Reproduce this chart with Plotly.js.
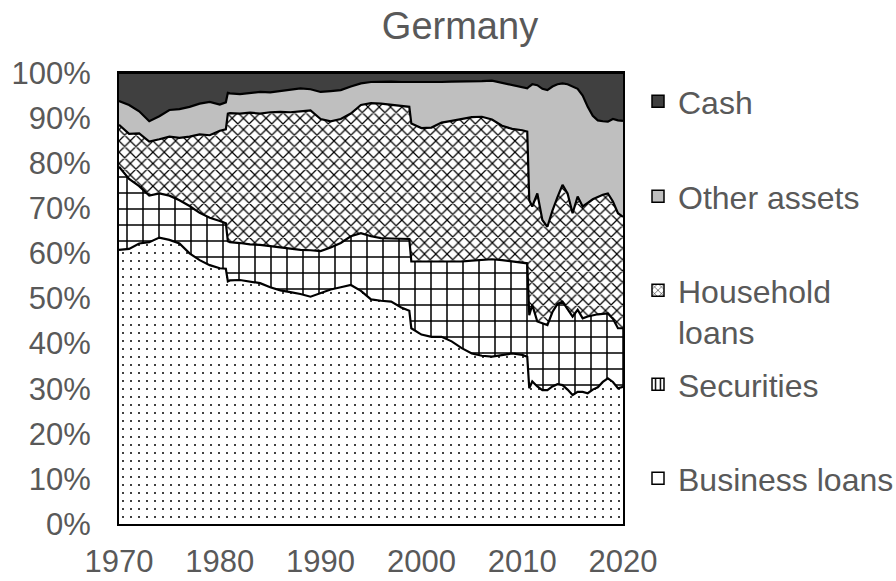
<!DOCTYPE html>
<html><head><meta charset="utf-8">
<script src="https://cdn.plot.ly/plotly-3.0.1.min.js"></script>
<style>html,body{margin:0;padding:0;background:#fff}#chart{width:896px;height:581px}</style>
</head><body><div id="chart"></div>
<script>
const years = [1970,1971,1972,1973,1974,1975,1976,1977,1978,1979,1980,1980.6,1980.8,1981,1982,1983,1984,1985,1986,1987,1988,1989,1990,1991,1992,1993,1994,1995,1996,1997,1998,1998.8,1999,2000,2001,2002,2003,2004,2005,2006,2007,2008,2009,2010,2010.5,2010.7,2011,2011.5,2012,2012.5,2013,2013.5,2014,2014.5,2015,2015.5,2016,2016.5,2017,2017.5,2018,2018.5,2019,2019.5,2020];

const businessLoans = [60.8,61.0,62.2,62.5,63.5,63.0,62.2,60.0,58.5,57.4,56.7,56.6,53.8,54.0,54.1,53.8,53.4,52.5,51.8,51.4,51.0,50.4,51.2,52.0,52.5,53.0,51.7,49.8,49.5,49.3,48.0,47.3,43.4,42.0,41.5,41.5,40.5,39.0,37.8,37.3,37.1,37.5,37.8,37.5,37.1,30.1,31.6,30.5,29.7,29.7,30.5,31.0,30.8,29.8,28.6,29.3,29.3,29.0,29.8,30.3,31.5,32.3,31.5,30.1,30.4];

const securities = [18.4,15.5,12.7,10.3,9.8,9.8,9.6,10.5,10.5,10.5,10.5,10.1,8.9,8.5,8.2,8.2,8.5,9.1,9.6,9.6,9.8,10.3,9.3,9.3,9.8,10.8,12.8,14.0,13.9,14.0,15.3,15.9,14.8,16.2,16.7,16.7,17.7,19.2,20.6,21.2,21.6,21.0,20.4,20.5,20.7,16.2,17.0,14.4,14.8,14.4,16.5,17.8,18.5,17.7,17.4,18.2,16.3,17.0,16.5,16.2,15.1,14.4,14.0,13.3,13.0];

const householdLoans = [9.3,10.0,11.7,12.0,12.0,13.1,13.8,15.4,17.4,18.3,20.0,20.8,28.3,28.6,28.7,29.2,29.1,29.7,30.0,30.3,30.7,31.0,29.3,28.0,27.5,27.2,28.4,29.5,29.8,29.6,29.4,29.3,30.6,29.6,29.7,30.8,31.2,31.6,31.8,31.8,31.0,29.8,29.4,29.3,29.2,25.5,21.8,28.4,22.9,21.8,22.5,23.7,25.9,25.8,22.9,25.1,24.8,25.2,25.7,26.0,26.4,26.6,26.0,25.5,24.7];

const otherAssets = [5.3,6.4,4.9,4.5,5.1,5.9,6.4,6.6,6.8,7.4,5.8,6.0,4.6,4.4,4.3,4.4,4.8,4.4,4.6,5.0,5.1,4.7,6.0,6.7,6.4,6.0,4.8,4.7,4.9,5.2,5.3,5.5,9.1,10.1,10.1,9.0,8.7,8.3,8.0,7.9,8.6,9.5,9.7,9.5,9.6,25.2,27.1,24.0,29.1,30.3,27.5,25.0,22.5,24.2,28.1,23.9,24.6,21.3,18.5,17.0,16.3,15.9,18.3,20.6,21.3];

const cash = [6.2,7.1,8.5,10.7,9.6,8.2,8.0,7.5,6.8,6.4,7.0,6.5,4.4,4.5,4.7,4.4,4.2,4.3,4.0,3.7,3.4,3.6,4.2,4.0,3.8,3.0,2.3,2.0,1.9,1.9,2.0,2.0,2.1,2.1,2.0,2.0,1.9,1.9,1.8,1.8,1.7,2.2,2.7,3.2,3.4,3.0,2.5,2.7,3.5,3.8,3.0,2.5,2.3,2.5,3.0,3.5,5.0,7.5,9.5,10.5,10.7,10.8,10.2,10.5,10.6];

const seriesNames = ['Business loans','Securities','Household<br>loans','Other assets','Cash'];
const xTickVals = [1970,1980,1990,2000,2010,2020];
const yTickVals = [0,10,20,30,40,50,60,70,80,90,100];

const seriesValues = [businessLoans, securities, householdLoans, otherAssets, cash];
const areaStyles = [
  {fillpattern:{shape:'.', size:8, solidity:0.05, fgcolor:'#000', bgcolor:'#fff', fillmode:'replace'}},
  {fillpattern:{shape:'+', size:16, solidity:0.18, fgcolor:'#000', bgcolor:'#fff', fillmode:'replace'}},
  {fillpattern:{shape:'x', size:8, solidity:0.28, fgcolor:'#000', bgcolor:'#fff', fillmode:'replace'}},
  {fillcolor:'#bfbfbf'},
  {fillcolor:'#404040'}
];
const legendMarkers = [
  {color:'#fff'},
  {color:'#fff', pattern:{shape:'|', size:6, solidity:0.3, fgcolor:'#000', bgcolor:'#fff'}},
  {color:'#fff', pattern:{shape:'x', size:6, solidity:0.2, fgcolor:'#000', bgcolor:'#fff'}},
  {color:'#bfbfbf'},
  {color:'#404040'}
];
const legendIds = ['legend5','legend4','legend3','legend2','legend'];
const legendY = [451, 357, 263, 169, 74];

const traces = [];
seriesValues.forEach((vals, i) => {
  traces.push(Object.assign({
    type:'scatter', mode:'lines', x: years, y: vals, stackgroup:'one',
    name: seriesNames[i], showlegend:false, hoverinfo:'skip',
    line:{color:'#000', width:2.2, shape:'linear'}
  }, areaStyles[i]));
});
seriesValues.forEach((vals, i) => {
  const m = Object.assign({}, legendMarkers[i], {line:{color:'#000', width:1.5}});
  traces.push({type:'bar', x:[null], y:[null], name: seriesNames[i], legend: legendIds[i],
    marker: m, showlegend:true, hoverinfo:'skip'});
});

const fontFam = 'Liberation Sans, Arial, sans-serif';
const layout = {
  width:896, height:581,
  margin:{l:119, r:273, t:73, b:57},
  paper_bgcolor:'#fff', plot_bgcolor:'#fff',
  font:{family:fontFam, size:31, color:'#595959'},
  title:{text:'Germany', font:{family:fontFam, size:38, color:'#595959'},
    x:460/896, xanchor:'center', xref:'container', y:1-26/581, yanchor:'middle', yref:'container'},
  xaxis:{range:[1970,2020], tickvals:xTickVals, ticktext:xTickVals.map(String),
    showgrid:false, zeroline:false, showline:true, mirror:true, linecolor:'#000', linewidth:2,
    ticks:'', ticklabelstandoff:9, tickfont:{size:31, color:'#595959'}},
  yaxis:{range:[0,100], tickvals:yTickVals, ticktext:yTickVals.map(v=>v+'%'),
    showgrid:false, zeroline:false, showline:true, mirror:true, linecolor:'#000', linewidth:2,
    ticks:'', ticklabelstandoff:20, tickfont:{size:31, color:'#595959'}},
  showlegend:true
};
legendIds.forEach((id, i) => {
  layout[id] = {x:638/896, y:1-legendY[i]/581, xref:'container', yref:'container',
    xanchor:'left', yanchor:'top', valign:'top', bgcolor:'rgba(0,0,0,0)',
    font:{family:fontFam, size:32, color:'#595959'}, itemwidth:30, tracegroupgap:0};
});

Plotly.newPlot('chart', traces, layout, {displayModeBar:false, staticPlot:true});
</script>
</body></html>
